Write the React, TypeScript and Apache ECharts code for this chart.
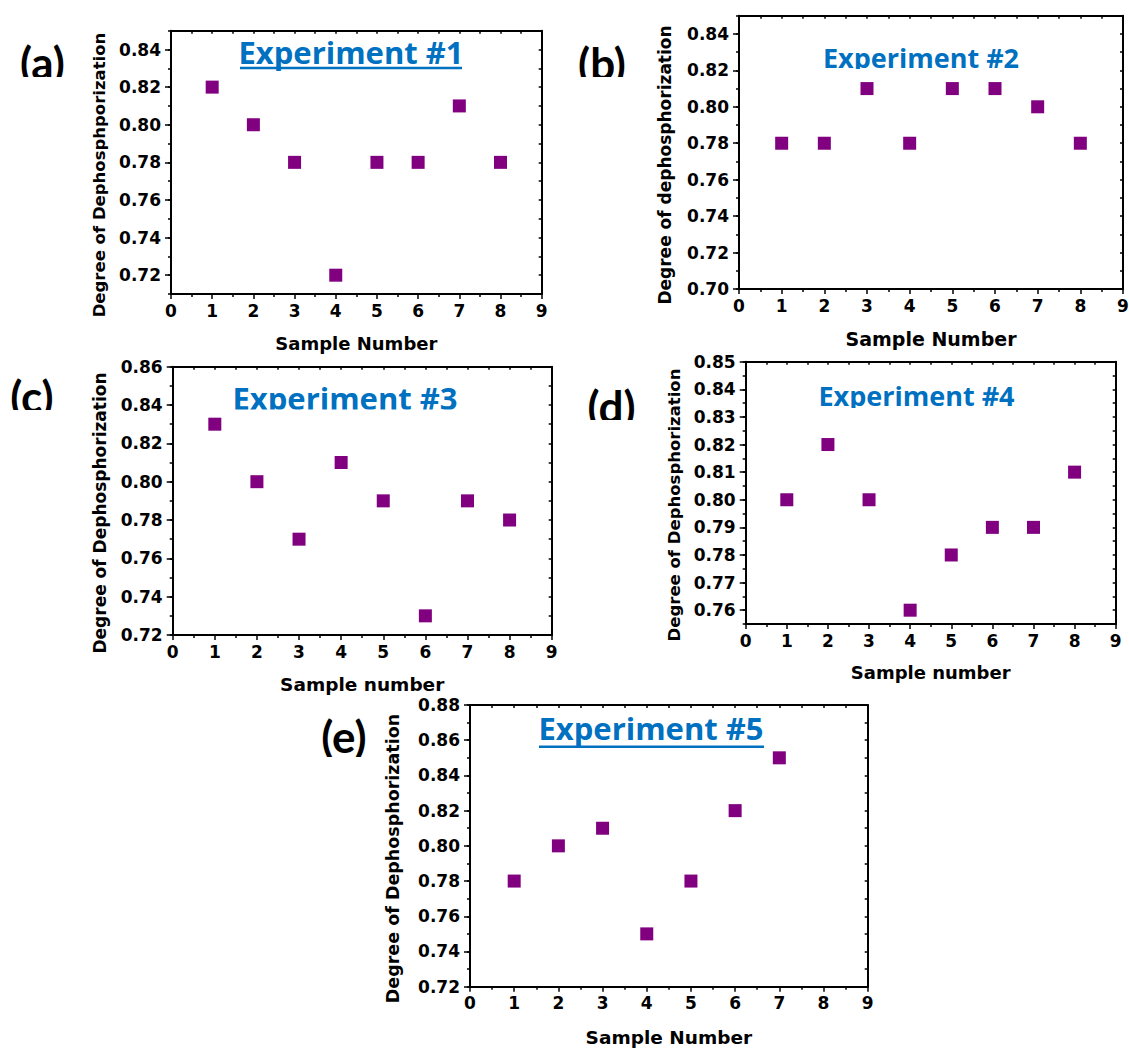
import React, { useEffect, useRef } from "react";
import * as echarts from "echarts";

// ---------- DATA ----------
const sampleNumbers = [1, 2, 3, 4, 5, 6, 7, 8];
const exp1 = [0.82, 0.8, 0.78, 0.72, 0.78, 0.78, 0.81, 0.78];
const exp2 = [0.78, 0.78, 0.81, 0.78, 0.81, 0.81, 0.8, 0.78];
const exp3 = [0.83, 0.8, 0.77, 0.81, 0.79, 0.73, 0.79, 0.78];
const exp4 = [0.8, 0.82, 0.8, 0.76, 0.78, 0.79, 0.79, 0.81];
const exp5 = [0.78, 0.8, 0.81, 0.75, 0.78, 0.82, 0.85];

const yLabels1 = [0.72, 0.74, 0.76, 0.78, 0.8, 0.82, 0.84];
const yLabels2 = [0.7, 0.72, 0.74, 0.76, 0.78, 0.8, 0.82, 0.84];
const yLabels3 = [0.72, 0.74, 0.76, 0.78, 0.8, 0.82, 0.84, 0.86];
const yLabels4 = [0.76, 0.77, 0.78, 0.79, 0.8, 0.81, 0.82, 0.83, 0.84, 0.85];
const yLabels5 = [0.72, 0.74, 0.76, 0.78, 0.8, 0.82, 0.84, 0.86, 0.88];

const yRanges = [
  [0.71, 0.85, 0.01],
  [0.7, 0.85, 0.01],
  [0.72, 0.86, 0.01],
  [0.755, 0.85, 0.005],
  [0.72, 0.88, 0.01],
];
const xRange = [0, 9, 1];

const panelLetters = ["(a)", "(b)", "(c)", "(d)", "(e)"];
const expTitles = ["Experiment #1", "Experiment #2", "Experiment #3", "Experiment #4", "Experiment #5"];
const yTitles = [
  "Degree of Dephosphporization",
  "Degree of dephosphorization",
  "Degree of Dephosphorization",
  "Degree of Dephosphorization",
  "Degree of Dephosphorization",
];
const xTitles = ["Sample Number", "Sample Number", "Sample number", "Sample number", "Sample Number"];

const seriesValues = [exp1, exp2, exp3, exp4, exp5];
const yLabelSets = [yLabels1, yLabels2, yLabels3, yLabels4, yLabels5];

// ---------- LAYOUT / STYLE ----------
const AX_FONT = '"DejaVu Sans", sans-serif';
const TITLE_FONT = '"Open Sans", sans-serif';
const LETTER_FONT = 'Lato, "Open Sans", sans-serif';
const BLUE = "#0070C0";
const PURPLE = "#800080";

const layout = [
  {
    grid: { left: 171, top: 30.7, width: 370.7, height: 263.3 },
    nameGap: 40, xNameSize: 18,
    yTitle: { x: 99, y: 175, size: 16.5 },
    letter: { x: 42.5, y: 62, clipY: 77 },
    title: { x: 351, y: 52, size: 31, clipY: null, underline: [240, 462, 68] },
  },
  {
    grid: { left: 739, top: 15.7, width: 384, height: 273.3 },
    nameGap: 40, xNameSize: 19,
    yTitle: { x: 665, y: 165, size: 17 },
    letter: { x: 602, y: 63, clipY: 77 },
    title: { x: 921, y: 57, size: 27, clipY: 69, underline: null },
  },
  {
    grid: { left: 172.7, top: 366.7, width: 379, height: 268.3 },
    nameGap: 40, xNameSize: 18.5,
    yTitle: { x: 100, y: 513, size: 17 },
    letter: { x: 32, y: 396, clipY: 410 },
    title: { x: 345, y: 398, size: 31, clipY: 409.5, underline: null },
  },
  {
    grid: { left: 745.7, top: 361.7, width: 370, height: 262.3 },
    nameGap: 39, xNameSize: 18,
    yTitle: { x: 674.5, y: 505, size: 16.5 },
    letter: { x: 611.5, y: 406, clipY: 420 },
    title: { x: 916.5, y: 395, size: 27, clipY: 408, underline: null },
  },
  {
    grid: { left: 470, top: 705, width: 397.7, height: 281.7 },
    nameGap: 41, xNameSize: 18.5,
    yTitle: { x: 392.5, y: 858.5, size: 17.5 },
    letter: { x: 344, y: 736, clipY: 757 },
    title: { x: 651, y: 728, size: 31, clipY: null, underline: [539, 764, 746.7] },
  },
];

function buildOption() {
  const grid: any[] = [];
  const xAxis: any[] = [];
  const yAxis: any[] = [];
  const series: any[] = [];
  const graphic: any[] = [];
  const lineStyle = { color: "#000", width: 2 };
  const tickStyle = { color: "#000", width: 1.5 };
  const labelStyle = { fontFamily: AX_FONT, fontWeight: "bold", fontSize: 17, color: "#000" };

  layout.forEach((L, i) => {
    grid.push({ ...L.grid, containLabel: false, outerBoundsMode: "none", show: false });
    const [ymin, ymax, ystep] = yRanges[i];
    const [xmin, xmax, xstep] = xRange;
    const xMainIndex = xAxis.length;
    xAxis.push({
      type: "value", gridIndex: i, position: "bottom", min: xmin, max: xmax, interval: xstep,
      axisLine: { show: true, onZero: false, lineStyle },
      axisTick: { show: true, inside: false, length: 5, lineStyle: tickStyle },
      minorTick: { show: true, splitNumber: 2, length: 3, lineStyle: tickStyle },
      axisLabel: { ...labelStyle, margin: 8, showMinLabel: true, showMaxLabel: true },
      splitLine: { show: false },
      name: xTitles[i], nameLocation: "middle", nameGap: L.nameGap,
      nameTextStyle: { fontFamily: AX_FONT, fontWeight: "bold", fontSize: L.xNameSize, color: "#000" },
    });
    xAxis.push({
      type: "value", gridIndex: i, position: "top", min: xmin, max: xmax, interval: xstep,
      axisLine: { show: true, onZero: false, lineStyle },
      axisTick: { show: true, inside: true, length: 3, lineStyle: tickStyle },
      minorTick: { show: true, splitNumber: 2, length: 3, lineStyle: tickStyle },
      axisLabel: { show: false },
      splitLine: { show: false },
    });
    const yMainIndex = yAxis.length;
    yAxis.push({
      type: "value", gridIndex: i, position: "left", min: ymin, max: ymax, interval: ystep,
      axisLine: { show: true, onZero: false, lineStyle },
      axisTick: { show: true, inside: false, length: 6, lineStyle: tickStyle, customValues: yLabelSets[i] },
      axisLabel: {
        ...labelStyle, margin: 10, customValues: yLabelSets[i],
        formatter: (v: number) => v.toFixed(2),
      },
      splitLine: { show: false },
    });
    yAxis.push({
      type: "value", gridIndex: i, position: "left", min: ymin, max: ymax, interval: ystep,
      axisLine: { show: false },
      axisTick: { show: true, inside: false, length: 3, lineStyle: tickStyle },
      axisLabel: { show: false },
      splitLine: { show: false },
    });
    yAxis.push({
      type: "value", gridIndex: i, position: "right", min: ymin, max: ymax, interval: ystep,
      axisLine: { show: true, onZero: false, lineStyle },
      axisTick: { show: true, inside: true, length: 3, lineStyle: tickStyle },
      axisLabel: { show: false },
      splitLine: { show: false },
    });
    series.push({
      type: "scatter",
      xAxisIndex: xMainIndex,
      yAxisIndex: yMainIndex,
      symbol: "rect",
      symbolSize: 13,
      itemStyle: { color: PURPLE, opacity: 1 },
      data: seriesValues[i].map((v, k) => [sampleNumbers[k], v]),
      z: 5,
    });

    // Y title
    graphic.push({
      type: "text", x: L.yTitle.x, y: L.yTitle.y, rotation: Math.PI / 2, z: 50,
      style: {
        text: yTitles[i], fill: "#000",
        font: `bold ${L.yTitle.size}px ${AX_FONT}`,
        textAlign: "center", textVerticalAlign: "middle",
      },
    });
    // Panel letter (clipped at the bottom like the reference)
    graphic.push({
      type: "text", x: L.letter.x, y: L.letter.y, z: 50,
      style: {
        text: panelLetters[i], fill: "#000",
        font: `bold 44px ${LETTER_FONT}`,
        textAlign: "center", textVerticalAlign: "middle",
      },
    });
    graphic.push({
      type: "rect", z: 60,
      shape: { x: L.letter.x - 36, y: L.letter.clipY, width: 72, height: 24 },
      style: { fill: "#fff" },
    });
    // Experiment title
    graphic.push({
      type: "text", x: L.title.x, y: L.title.y, z: 50,
      style: {
        text: expTitles[i], fill: BLUE,
        font: `bold ${L.title.size}px ${TITLE_FONT}`,
        textAlign: "center", textVerticalAlign: "middle",
      },
    });
    if (L.title.clipY != null) {
      graphic.push({
        type: "rect", z: 60,
        shape: { x: L.title.x - 118, y: L.title.clipY, width: 236, height: 11 },
        style: { fill: "#fff" },
      });
    }
    if (L.title.underline) {
      const [x1, x2, yy] = L.title.underline;
      graphic.push({
        type: "line", z: 50,
        shape: { x1, y1: yy, x2, y2: yy },
        style: { stroke: BLUE, lineWidth: 2.5 },
      });
    }
  });

  return {
    animation: false,
    backgroundColor: "#fff",
    grid, xAxis, yAxis, series, graphic,
  };
}

export default function App() {
  const ref = useRef<HTMLDivElement>(null);
  useEffect(() => {
    if (!ref.current) return;
    const chart = echarts.init(ref.current, null, { renderer: "svg" });
    chart.setOption(buildOption() as any);
    return () => chart.dispose();
  }, []);
  return (
    <div
      ref={ref}
      style={{ position: "absolute", left: 0, top: 0, width: 1129, height: 1048, background: "#fff" }}
    />
  );
}
